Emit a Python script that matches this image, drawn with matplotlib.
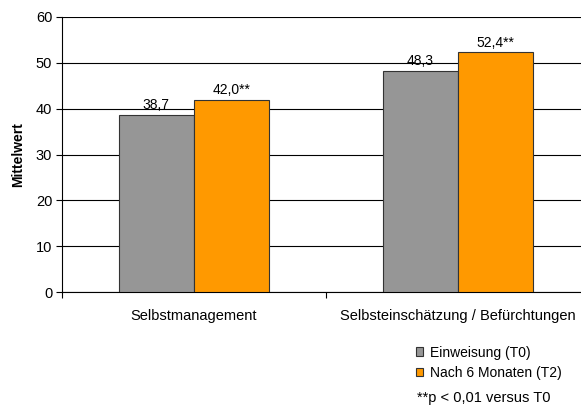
import numpy as np
import matplotlib.pyplot as plt

plt.rcParams['font.family'] = ['Liberation Sans', 'DejaVu Sans']

# Daten
kategorien = ["Selbstmanagement", "Selbsteinschätzung / Befürchtungen"]
werte_t0 = [38.7, 48.3]
werte_t2 = [42.0, 52.4]
labels_t0 = ["38,7", "48,3"]
labels_t2 = ["42,0**", "52,4**"]
serien = ["Einweisung (T0)", "Nach 6 Monaten (T2)"]
yticks = [0, 10, 20, 30, 40, 50, 60]

W, H = 581, 408
fig = plt.figure(figsize=(W / 100, H / 100), dpi=100)
# Achse reicht rechts über das Bild hinaus (wie im Original abgeschnitten)
ax = fig.add_axes([62 / W, 1 - 292 / H, (590 - 62) / W, (292 - 17) / H])

x = np.arange(len(kategorien))
breite = 1 / 3.5
b0 = ax.bar(x - breite / 2, werte_t0, breite, color="#969696", edgecolor="#333333", linewidth=0.8,
            label=serien[0], zorder=3)
b1 = ax.bar(x + breite / 2, werte_t2, breite, color="#FF9900", edgecolor="#333333", linewidth=0.8,
            label=serien[1], zorder=3)

for rect, txt in zip(b0, labels_t0):
    ax.text(rect.get_x() + rect.get_width() / 2, rect.get_height() + 0.5, txt,
            ha="center", va="bottom", fontsize=10)
for rect, txt in zip(b1, labels_t2):
    ax.text(rect.get_x() + rect.get_width() / 2, rect.get_height() + 0.5, txt,
            ha="center", va="bottom", fontsize=10)

ax.set_xlim(-0.5, len(kategorien) - 0.5)
ax.set_ylim(0, 60)
ax.set_yticks(yticks)
ax.set_yticklabels([str(v) for v in yticks], fontsize=10.5)
ax.yaxis.grid(True, color="black", linewidth=0.8, zorder=0)

# Kategorie-Grenzen als Ticks, Beschriftung mittig
ax.set_xticks([-0.5, 0.5, 1.5])
ax.set_xticklabels([])
ax.set_xticks(x, minor=True)
ax.set_xticklabels(kategorien, minor=True, fontsize=10.5)
ax.tick_params(axis="x", which="minor", length=0, pad=12)
ax.tick_params(axis="x", which="major", length=4, width=0.8, direction="out")
ax.tick_params(axis="y", length=4, width=0.8, direction="out", pad=3)

for s in ["top", "right"]:
    ax.spines[s].set_visible(False)
ax.spines["left"].set_linewidth(0.8)
ax.spines["bottom"].set_linewidth(0.8)

ax.set_ylabel("Mittelwert", fontsize=10, fontweight="bold", labelpad=8)

fig.legend(handles=[b0, b1], labels=serien, loc="upper left",
           bbox_to_anchor=(403 / W, 1 - 333 / H), frameon=False, fontsize=10,
           handlelength=0.55, handleheight=0.55, handletextpad=0.5, labelspacing=0.45)
fig.text(417 / W, 1 - 398 / H, "**p < 0,01 versus T0", fontsize=10.5, va="center")

plt.savefig("out.png", dpi=100)
